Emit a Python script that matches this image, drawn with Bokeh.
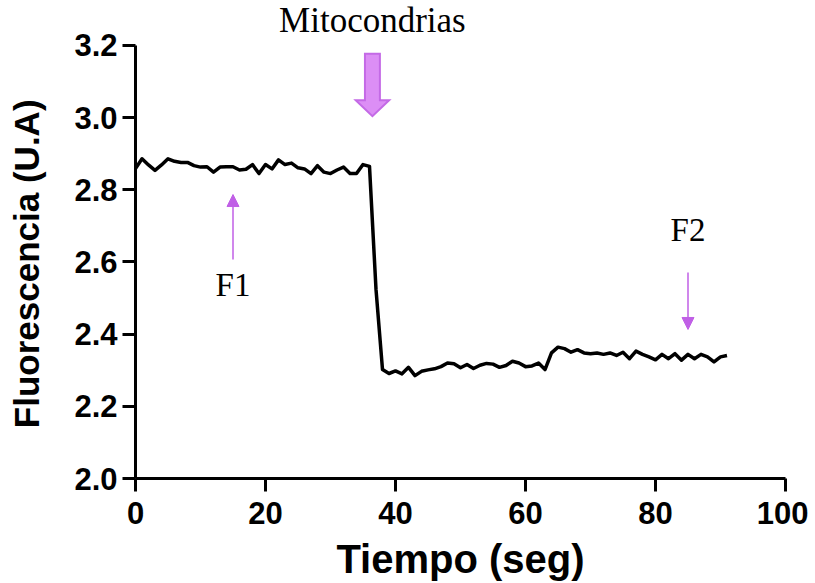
from bokeh.plotting import figure
from bokeh.models import FixedTicker, Arrow, NormalHead, ColumnDataSource, NumeralTickFormatter
from bokeh.core.properties import value
from bokeh.embed import file_html
from bokeh.resources import INLINE

# ---- data ----
tiempo = list(range(0, 92))
fluorescencia = [
    2.859, 2.886, 2.869, 2.854, 2.869, 2.886, 2.879, 2.876, 2.876, 2.867,
    2.863, 2.864, 2.849, 2.863, 2.864, 2.864, 2.855, 2.857, 2.870, 2.845,
    2.870, 2.858, 2.883, 2.870, 2.874, 2.861, 2.858, 2.845, 2.867, 2.849,
    2.845, 2.855, 2.863, 2.845, 2.845, 2.870, 2.865,
    2.524,
    2.302, 2.291, 2.298, 2.290, 2.308, 2.285, 2.297, 2.301, 2.304, 2.310,
    2.320, 2.318, 2.307, 2.316, 2.305, 2.314, 2.319, 2.317, 2.308, 2.313,
    2.325, 2.320, 2.310, 2.312, 2.320, 2.302,
    2.348, 2.364, 2.360, 2.350, 2.357, 2.348, 2.346, 2.348, 2.344, 2.348,
    2.341, 2.350, 2.332, 2.353, 2.344, 2.337, 2.329, 2.344, 2.332, 2.346,
    2.328, 2.344, 2.332, 2.344, 2.337, 2.323, 2.337, 2.341,
]
x_ticks = [0, 20, 40, 60, 80, 100]
y_ticks = [2.0, 2.2, 2.4, 2.6, 2.8, 3.0, 3.2]
x_title = "Tiempo (seg)"
y_title = "Fluorescencia (U.A)"

# annotation anchors (data units)
mito_label = "Mitocondrias"
mito_x, mito_label_y = 36.45, 3.268
mito_arrow_top, mito_head_start, mito_tip = 3.177, 3.048, 3.004
mito_body_half, mito_head_half = 1.15, 2.57
f1_label, f1_x, f1_label_y, f1_start, f1_end = "F1", 15.0, 2.535, 2.607, 2.787
f2_label, f2_x, f2_label_y, f2_start, f2_end = "F2", 85.0, 2.689, 2.571, 2.413

thin_col = "#C05FE6"
fat_fill = "#DC8EF5"
fat_line = "#C46AE6"

p = figure(
    frame_width=650, frame_height=478,
    x_range=(0, 100), y_range=(2.0, 3.3247),
    output_backend="svg", toolbar_location=None,
    min_border_left=135, min_border_right=23, min_border_top=0, min_border_bottom=97,
)
p.outline_line_color = None
p.xgrid.visible = False
p.ygrid.visible = False
p.background_fill_color = "white"
p.border_fill_color = "white"

p.line(tiempo, fluorescencia, line_color="black", line_width=3.5, line_join="round")

# Mitocondrias fat arrow
xs = [mito_x - mito_body_half, mito_x + mito_body_half, mito_x + mito_body_half,
      mito_x + mito_head_half, mito_x, mito_x - mito_head_half, mito_x - mito_body_half]
ys = [mito_arrow_top, mito_arrow_top, mito_head_start, mito_head_start, mito_tip,
      mito_head_start, mito_head_start]
p.patch(xs, ys, fill_color=fat_fill, line_color=fat_line, line_width=2, line_join="miter")

# thin arrows
p.add_layout(Arrow(end=NormalHead(size=12, fill_color=thin_col, line_color=thin_col, line_width=1),
                   x_start=f1_x, y_start=f1_start, x_end=f1_x, y_end=f1_end,
                   line_color=thin_col, line_width=1.5))
p.add_layout(Arrow(end=NormalHead(size=12, fill_color=thin_col, line_color=thin_col, line_width=1),
                   x_start=f2_x, y_start=f2_start, x_end=f2_x, y_end=f2_end,
                   line_color=thin_col, line_width=1.5))

p.text(x=[mito_x], y=[mito_label_y], text=[mito_label], text_font=value("Liberation Serif"),
       text_font_size="35px", text_align="center", text_baseline="middle", text_color="black")
src = ColumnDataSource(dict(x=[f1_x, f2_x], y=[f1_label_y, f2_label_y], t=[f1_label, f2_label]))
p.text(x="x", y="y", text="t", source=src, text_font=value("Liberation Serif"),
       text_font_size="33px", text_align="center", text_baseline="middle", text_color="black")

# axes
for ax in (p.xaxis[0], p.yaxis[0]):
    ax.axis_line_width = 3
    ax.axis_line_color = "black"
    ax.major_tick_line_width = 3
    ax.major_tick_line_color = "black"
    ax.major_tick_in = 0
    ax.major_tick_out = 13
    ax.minor_tick_line_color = None
    ax.major_label_text_font = "Liberation Sans"
    ax.major_label_text_font_style = "bold"
    ax.major_label_text_font_size = "31px"
    ax.major_label_text_color = "black"
    ax.axis_label_text_font = "Liberation Sans"
    ax.axis_label_text_font_style = "bold"
    ax.axis_label_text_color = "black"

p.xaxis.ticker = FixedTicker(ticks=x_ticks)
p.yaxis.ticker = FixedTicker(ticks=y_ticks)
p.xaxis.bounds = (0, 100)
p.yaxis.bounds = (2.0, 3.2)
p.yaxis.formatter = NumeralTickFormatter(format="0.0")
p.xaxis.axis_label = x_title
# trailing no-break spaces push the visible title down to the centre of the 2.0-3.2 span
p.yaxis.axis_label = y_title + "\u00a0" * 5
p.xaxis.axis_label_text_font_size = "40px"
p.yaxis.axis_label_text_font_size = "35px"
p.xaxis.major_label_standoff = 10
p.yaxis.major_label_standoff = 5
p.xaxis.axis_label_standoff = 10
p.yaxis.axis_label_standoff = 25

open("out.html", "w").write(file_html(p, INLINE))
